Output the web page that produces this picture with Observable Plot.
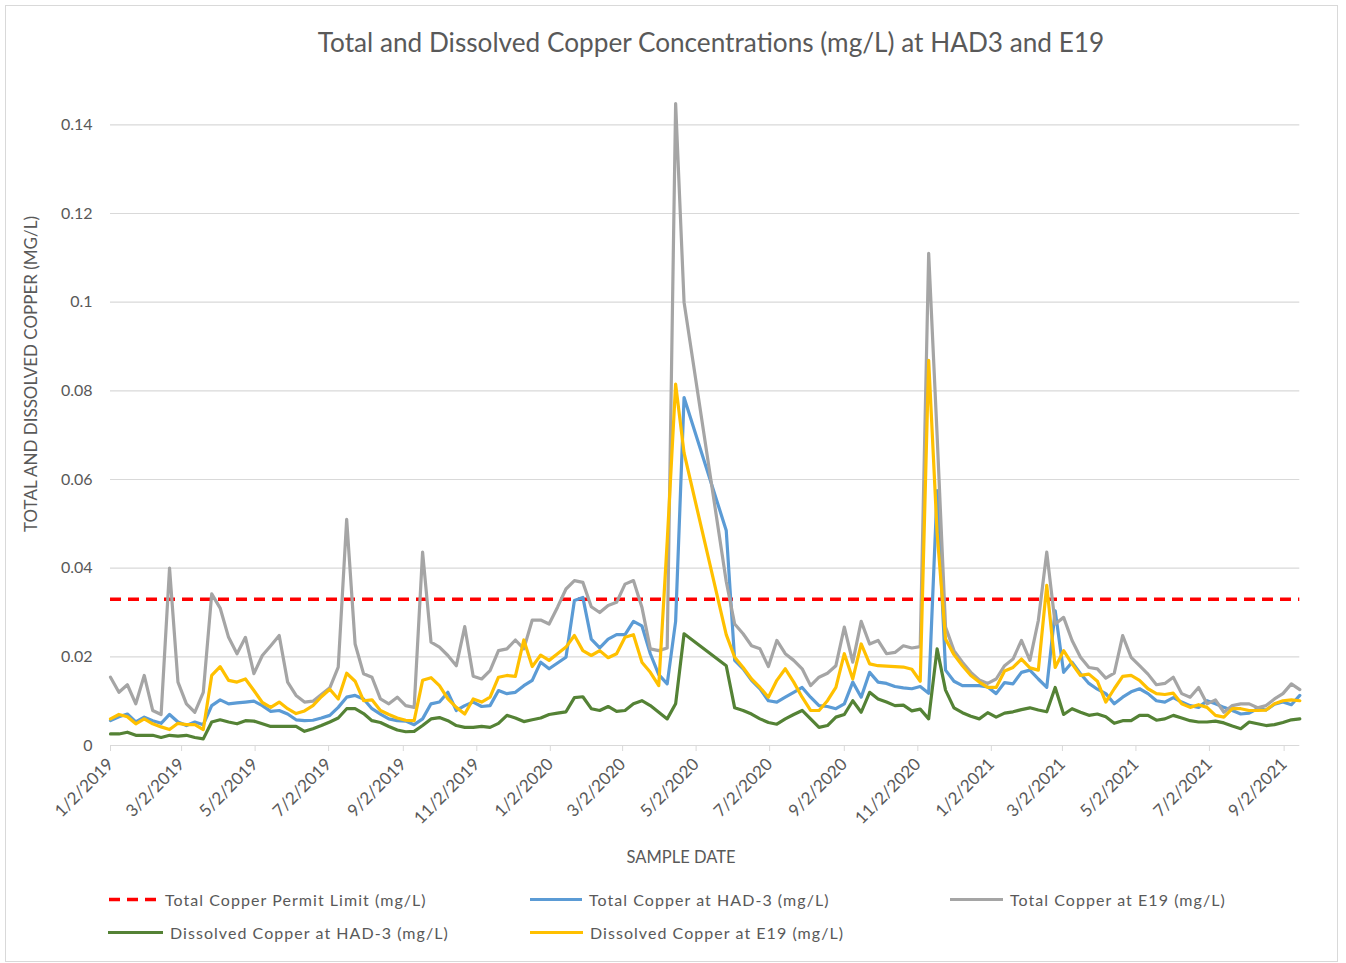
<!DOCTYPE html>
<html>
<head>
<meta charset="utf-8">
<script src="https://cdn.jsdelivr.net/npm/d3@7"></script>
<script src="https://cdn.jsdelivr.net/npm/@observablehq/plot@0.6"></script>
<style>
  html, body { margin: 0; padding: 0; background: #fff; }
  body { width: 1346px; height: 963px; position: relative; overflow: hidden; font-family: Lato, "Open Sans", sans-serif; color: #595959; }
  #frame { position: absolute; left: 5px; top: 5px; width: 1333px; height: 957px; border: 1px solid #d9d9d9; box-sizing: border-box; }
  #title { position: absolute; left: 76px; width: 1270px; top: 42px; transform: translateY(-50%); text-align: center; font-size: 26.2px; color: #595959; white-space: nowrap; }
  #chart { position: absolute; left: 0; top: 0; }
  #ytitle { position: absolute; left: 30px; top: 374px; transform: translate(-50%, -50%) rotate(-90deg); font-size: 17px; white-space: nowrap; }
  #xtitle { position: absolute; left: 681px; top: 857px; transform: translate(-50%, -50%); font-size: 16.5px; white-space: nowrap; }
  .leg { position: absolute; display: flex; align-items: center; transform: translateY(-50%); font-size: 16px; letter-spacing: 1.05px; white-space: nowrap; }
  .leg svg { margin-right: 7px; }
</style>
</head>
<body>
<div id="frame"></div>
<div id="title"></div>
<div id="chart"></div>
<div id="ytitle"></div>
<div id="xtitle"></div>
<div id="legend"></div>
<script>
// ---------------- DATA ----------------
const titleText = "Total and Dissolved Copper Concentrations (mg/L) at HAD3 and E19";
const yTitle = "TOTAL AND DISSOLVED COPPER (MG/L)";
const xTitle = "SAMPLE DATE";

const sampleDates = [
  // 2019
  "2019-01-02","2019-01-09","2019-01-16","2019-01-23","2019-01-30","2019-02-06","2019-02-13","2019-02-20","2019-02-27",
  "2019-03-06","2019-03-13","2019-03-20","2019-03-27","2019-04-03","2019-04-10","2019-04-17","2019-04-24",
  "2019-05-01","2019-05-08","2019-05-15","2019-05-22","2019-05-29","2019-06-05","2019-06-12","2019-06-19","2019-06-26",
  "2019-07-03","2019-07-10","2019-07-17","2019-07-24","2019-07-31","2019-08-07","2019-08-14","2019-08-21","2019-08-28",
  "2019-09-04","2019-09-11","2019-09-18","2019-09-25","2019-10-02","2019-10-09","2019-10-16","2019-10-23","2019-10-30",
  "2019-11-06","2019-11-13","2019-11-20","2019-11-27","2019-12-04","2019-12-11","2019-12-18","2019-12-25",
  // 2020
  "2020-01-01","2020-01-08","2020-01-15","2020-01-22","2020-01-29","2020-02-05","2020-02-12","2020-02-19","2020-02-26",
  "2020-03-04","2020-03-11","2020-03-18","2020-03-25","2020-04-01","2020-04-08","2020-04-15","2020-04-22",
  "2020-05-27","2020-06-03","2020-06-10","2020-06-17","2020-06-24",
  "2020-07-01","2020-07-08","2020-07-15","2020-07-22","2020-07-29","2020-08-05","2020-08-12","2020-08-19","2020-08-26",
  "2020-09-02","2020-09-09","2020-09-16","2020-09-23","2020-09-30","2020-10-07","2020-10-14","2020-10-21","2020-10-28",
  "2020-11-04","2020-11-11","2020-11-18","2020-11-25","2020-12-02","2020-12-09","2020-12-16","2020-12-23","2020-12-30",
  // 2021
  "2021-01-06","2021-01-13","2021-01-20","2021-01-27","2021-02-03","2021-02-10","2021-02-17","2021-02-24",
  "2021-03-03","2021-03-10","2021-03-17","2021-03-24","2021-03-31","2021-04-07","2021-04-14","2021-04-21","2021-04-28",
  "2021-05-05","2021-05-12","2021-05-19","2021-05-26","2021-06-02","2021-06-09","2021-06-16","2021-06-23","2021-06-30",
  "2021-07-07","2021-07-14","2021-07-21","2021-07-28","2021-08-04","2021-08-11","2021-08-18","2021-08-25",
  "2021-09-01","2021-09-08","2021-09-15"
];

const totalHAD3 = [
  0.0056,0.0065,0.0071,0.0053,0.0064,0.0056,0.0050,0.0070,0.0053,0.0045,
  0.0053,0.0047,0.0090,0.0103,0.0094,0.0096,0.0098,0.0100,0.0090,0.0077,
  0.0079,0.0071,0.0058,0.0056,0.0057,0.0062,0.0068,0.0086,0.0109,0.0113,
  0.0105,0.0083,0.0071,0.0060,0.0056,0.0055,0.0047,0.0060,0.0094,0.0098,
  0.0120,0.0079,0.0090,0.0098,0.0088,0.0090,0.0124,0.0117,0.0120,0.0135,
  0.0147,0.0188,0.0173,0.0186,0.0199,0.0327,0.0334,0.0240,0.0220,0.0240,
  0.0250,0.0250,0.0280,0.0270,0.0207,0.0160,0.0139,0.0280,0.0785,
  0.0485,0.0192,0.0173,0.0147,0.0128,0.0101,0.0098,
  0.0109,0.0120,0.0131,0.0109,0.0090,0.0088,0.0083,0.0094,0.0143,0.0109,
  0.0165,0.0143,0.0140,0.0133,0.0130,0.0128,0.0133,0.0118,0.0575,0.0170,
  0.0145,0.0135,0.0135,0.0135,0.0132,0.0117,0.0142,0.0139,0.0165,0.0170,
  0.0150,0.0131,0.0304,0.0165,0.0188,0.0162,0.0140,0.0127,0.0117,0.0094,
  0.0109,0.0121,0.0128,0.0117,0.0101,0.0098,0.0108,0.0098,0.0090,0.0086,
  0.0101,0.0094,0.0086,0.0079,0.0071,0.0073,0.0083,0.0080,0.0093,0.0098,0.0092,0.0113
];

const totalE19 = [
  0.0154,0.0120,0.0137,0.0094,0.0158,0.0079,0.0070,0.0400,0.0143,0.0094,
  0.0075,0.0120,0.0342,0.0310,0.0244,0.0207,0.0244,0.0162,0.0203,0.0225,
  0.0248,0.0143,0.0113,0.0098,0.0100,0.0115,0.0130,0.0177,0.0510,0.0229,
  0.0162,0.0154,0.0105,0.0094,0.0109,0.0090,0.0086,0.0436,0.0233,0.0222,
  0.0203,0.0180,0.0268,0.0156,0.0150,0.0169,0.0214,0.0218,0.0238,0.0218,
  0.0283,0.0283,0.0274,0.0312,0.0353,0.0372,0.0368,0.0313,0.0300,0.0316,
  0.0323,0.0364,0.0372,0.0312,0.0218,0.0214,0.0220,0.1448,0.1000,
  0.0370,0.0274,0.0252,0.0225,0.0218,0.0178,0.0237,
  0.0207,0.0192,0.0173,0.0135,0.0154,0.0163,0.0180,0.0267,0.0188,0.0280,
  0.0229,0.0237,0.0207,0.0210,0.0225,0.0220,0.0223,0.1110,0.0700,0.0267,
  0.0214,0.0188,0.0165,0.0148,0.0140,0.0150,0.0180,0.0195,0.0237,0.0192,
  0.0282,0.0436,0.0274,0.0289,0.0237,0.0199,0.0176,0.0173,0.0152,0.0163,
  0.0248,0.0199,0.0180,0.0161,0.0137,0.0140,0.0154,0.0117,0.0109,0.0131,
  0.0094,0.0103,0.0075,0.0090,0.0094,0.0094,0.0085,0.0090,0.0105,0.0117,0.0139,0.0126
];

const dissolvedHAD3 = [
  0.0026,0.0026,0.0030,0.0023,0.0023,0.0023,0.0018,0.0023,0.0021,0.0023,
  0.0018,0.0015,0.0053,0.0058,0.0053,0.0049,0.0056,0.0055,0.0049,0.0043,
  0.0043,0.0043,0.0043,0.0032,0.0038,0.0045,0.0053,0.0062,0.0083,0.0083,
  0.0072,0.0056,0.0052,0.0043,0.0035,0.0031,0.0032,0.0045,0.0060,0.0063,
  0.0056,0.0045,0.0041,0.0041,0.0043,0.0041,0.0050,0.0068,0.0062,0.0054,
  0.0058,0.0062,0.0070,0.0073,0.0076,0.0108,0.0110,0.0083,0.0079,0.0088,
  0.0077,0.0079,0.0094,0.0101,0.0090,0.0075,0.0060,0.0094,0.0252,
  0.0180,0.0085,0.0079,0.0071,0.0060,0.0052,0.0048,
  0.0060,0.0070,0.0079,0.0060,0.0041,0.0045,0.0064,0.0070,0.0101,0.0075,
  0.0120,0.0105,0.0098,0.0090,0.0091,0.0078,0.0082,0.0060,0.0218,0.0125,
  0.0085,0.0074,0.0066,0.0060,0.0074,0.0064,0.0073,0.0076,0.0081,0.0085,
  0.0080,0.0076,0.0131,0.0070,0.0083,0.0075,0.0068,0.0071,0.0065,0.0050,
  0.0056,0.0056,0.0068,0.0068,0.0057,0.0060,0.0068,0.0062,0.0056,0.0053,
  0.0053,0.0055,0.0051,0.0044,0.0038,0.0053,0.0049,0.0045,0.0047,0.0052,0.0058,0.0060
];

const dissolvedE19 = [
  0.0060,0.0070,0.0065,0.0049,0.0060,0.0049,0.0042,0.0036,0.0050,0.0047,
  0.0047,0.0036,0.0158,0.0178,0.0147,0.0143,0.0150,0.0124,0.0097,0.0086,
  0.0098,0.0083,0.0072,0.0078,0.0090,0.0110,0.0127,0.0105,0.0163,0.0145,
  0.0101,0.0103,0.0079,0.0070,0.0062,0.0057,0.0056,0.0147,0.0153,0.0135,
  0.0105,0.0086,0.0071,0.0105,0.0098,0.0109,0.0154,0.0158,0.0156,0.0238,
  0.0178,0.0204,0.0192,0.0207,0.0222,0.0248,0.0214,0.0203,0.0214,0.0198,
  0.0207,0.0244,0.0250,0.0188,0.0165,0.0135,0.0460,0.0815,0.0660,
  0.0250,0.0199,0.0176,0.0150,0.0131,0.0109,0.0147,
  0.0173,0.0143,0.0109,0.0079,0.0079,0.0101,0.0131,0.0207,0.0150,0.0229,
  0.0184,0.0180,0.0179,0.0178,0.0177,0.0172,0.0145,0.0869,0.0480,0.0240,
  0.0205,0.0180,0.0158,0.0143,0.0131,0.0131,0.0168,0.0176,0.0195,0.0175,
  0.0170,0.0361,0.0176,0.0214,0.0184,0.0158,0.0161,0.0145,0.0098,0.0128,
  0.0156,0.0158,0.0147,0.0128,0.0117,0.0115,0.0118,0.0094,0.0086,0.0092,
  0.0086,0.0068,0.0064,0.0083,0.0083,0.0079,0.0079,0.0080,0.0094,0.0101,0.0103,0.0101
];

const permitLimit = 0.033;

const yTicks = [0, 0.02, 0.04, 0.06, 0.08, 0.1, 0.12, 0.14];
const xTickLabels = ["1/2/2019","3/2/2019","5/2/2019","7/2/2019","9/2/2019","11/2/2019",
  "1/2/2020","3/2/2020","5/2/2020","7/2/2020","9/2/2020","11/2/2020",
  "1/2/2021","3/2/2021","5/2/2021","7/2/2021","9/2/2021"];

const seriesNames = ["Total Copper Permit Limit (mg/L)", "Total Copper at HAD-3 (mg/L)", "Total Copper at E19 (mg/L)",
  "Dissolved Copper at HAD-3 (mg/L)", "Dissolved Copper at E19 (mg/L)"];
const seriesColors = ["#FF0000", "#5B9BD5", "#A5A5A5", "#548235", "#FFC000"];

// ---------------- BUILD ----------------
const parseMDY = s => { const [m, d, y] = s.split("/").map(Number); return new Date(Date.UTC(y, m - 1, d)); };
const fmtMDY = d => `${d.getUTCMonth() + 1}/${d.getUTCDate()}/${d.getUTCFullYear()}`;
const xTicks = xTickLabels.map(parseMDY);
const dates = sampleDates.map(s => new Date(s + "T00:00:00Z"));

const valueSets = [null, totalHAD3, totalE19, dissolvedHAD3, dissolvedE19];
const tableFor = idx => dates.map((d, i) => ({date: d, value: valueSets[idx][i], series: seriesNames[idx]}));

const chart = Plot.plot({
  width: 1346,
  height: 830,
  marginLeft: 110,
  marginRight: 46.7,
  marginTop: 80,
  marginBottom: 85,
  style: {fontFamily: "Lato, 'Open Sans', sans-serif", fontSize: "13px", color: "#595959", background: "transparent", overflow: "visible"},
  x: {type: "utc", domain: [dates[0], dates[dates.length - 1]]},
  y: {domain: [0, 0.15]},
  marks: [
    Plot.gridY(yTicks, {stroke: "#d9d9d9", strokeOpacity: 1, strokeWidth: 1.2}),
    Plot.axisY(yTicks, {tickSize: 0, tickPadding: 18, tickFormat: d => String(d), fill: "#595959", fontSize: 16, label: null}),
    Plot.axisX(xTicks, {tickRotate: -45, tickSize: 6, tickPadding: 10, stroke: "#d9d9d9", strokeOpacity: 1, fill: "#595959", fontSize: 17, tickFormat: fmtMDY, label: null}),
    Plot.ruleY([permitLimit], {stroke: seriesColors[0], strokeWidth: 3.5, strokeDasharray: "11,7"}),
    ...[1, 2, 3, 4].map(idx => Plot.line(tableFor(idx), {x: "date", y: "value", stroke: seriesColors[idx], strokeWidth: 3.2, strokeLinejoin: "round", strokeLinecap: "round"}))
  ]
});
document.getElementById("chart").appendChild(chart);

document.getElementById("title").textContent = titleText;
document.getElementById("ytitle").textContent = yTitle;
document.getElementById("xtitle").textContent = xTitle;

// legend
const legendLayout = [
  {idx: 0, left: 108, top: 899, sw: 50},
  {idx: 1, left: 530, top: 899, sw: 52},
  {idx: 2, left: 950, top: 899, sw: 53},
  {idx: 3, left: 108, top: 932, sw: 55},
  {idx: 4, left: 530, top: 932, sw: 53}
];
const legend = document.getElementById("legend");
legendLayout.forEach(L => {
  const div = document.createElement("div");
  div.className = "leg";
  div.style.left = L.left + "px";
  div.style.top = L.top + "px";
  const dash = L.idx === 0 ? ` stroke-dasharray="11,7"` : "";
  const w = L.idx === 0 ? 3.5 : 3.2;
  div.innerHTML = `<svg width="${L.sw}" height="8"><line x1="${L.idx===0?1:0}" y1="4" x2="${L.sw}" y2="4" stroke="${seriesColors[L.idx]}" stroke-width="${w}"${dash}/></svg><span>${seriesNames[L.idx]}</span>`;
  legend.appendChild(div);
});
</script>
</body>
</html>
